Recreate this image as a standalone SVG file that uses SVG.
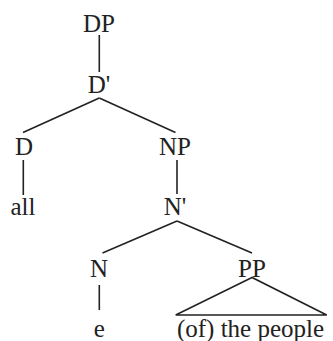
<svg xmlns="http://www.w3.org/2000/svg" width="333" height="341" viewBox="0 0 333 341">
<style>
.t text{font-family:'Liberation Serif','Times New Roman',Times,serif;font-size:25px;fill:#222;text-anchor:middle}
.e line,.e polygon{stroke:#222;stroke-width:1.6;fill:none}
</style>
<rect width="333" height="341" fill="#fff"/>
<g class="e" id="connectors">
<line x1="99.3" y1="35" x2="99.3" y2="72"/>
<line x1="99.3" y1="98" x2="23" y2="132.5"/>
<line x1="99.3" y1="98" x2="175.5" y2="132.5"/>
<line x1="23.3" y1="160" x2="23.3" y2="195"/>
<line x1="177" y1="160" x2="177" y2="194"/>
<line x1="177" y1="221" x2="102.5" y2="253"/>
<line x1="177" y1="221" x2="252" y2="253"/>
<line x1="99.3" y1="285" x2="99.3" y2="310"/>
<polygon points="252,277.5 175.7,315 326.7,315"/>
</g>
<g class="t" font-family="Liberation Serif, serif">
<g id="DP"><text x="99" y="32">DP</text></g>
<g id="Dbar"><text x="99" y="93">D'</text></g>
<g id="D"><text x="24" y="155">D</text></g>
<g id="NP"><text x="175" y="155">NP</text></g>
<g id="all"><text x="23" y="215">all</text></g>
<g id="Nbar"><text x="175" y="215">N'</text></g>
<g id="N"><text x="99" y="277">N</text></g>
<g id="PP"><text x="252" y="277">PP</text></g>
<g id="e"><text x="99.3" y="337">e</text></g>
<g id="people"><text x="250.5" y="337">(of) the people</text></g>
</g>
</svg>
